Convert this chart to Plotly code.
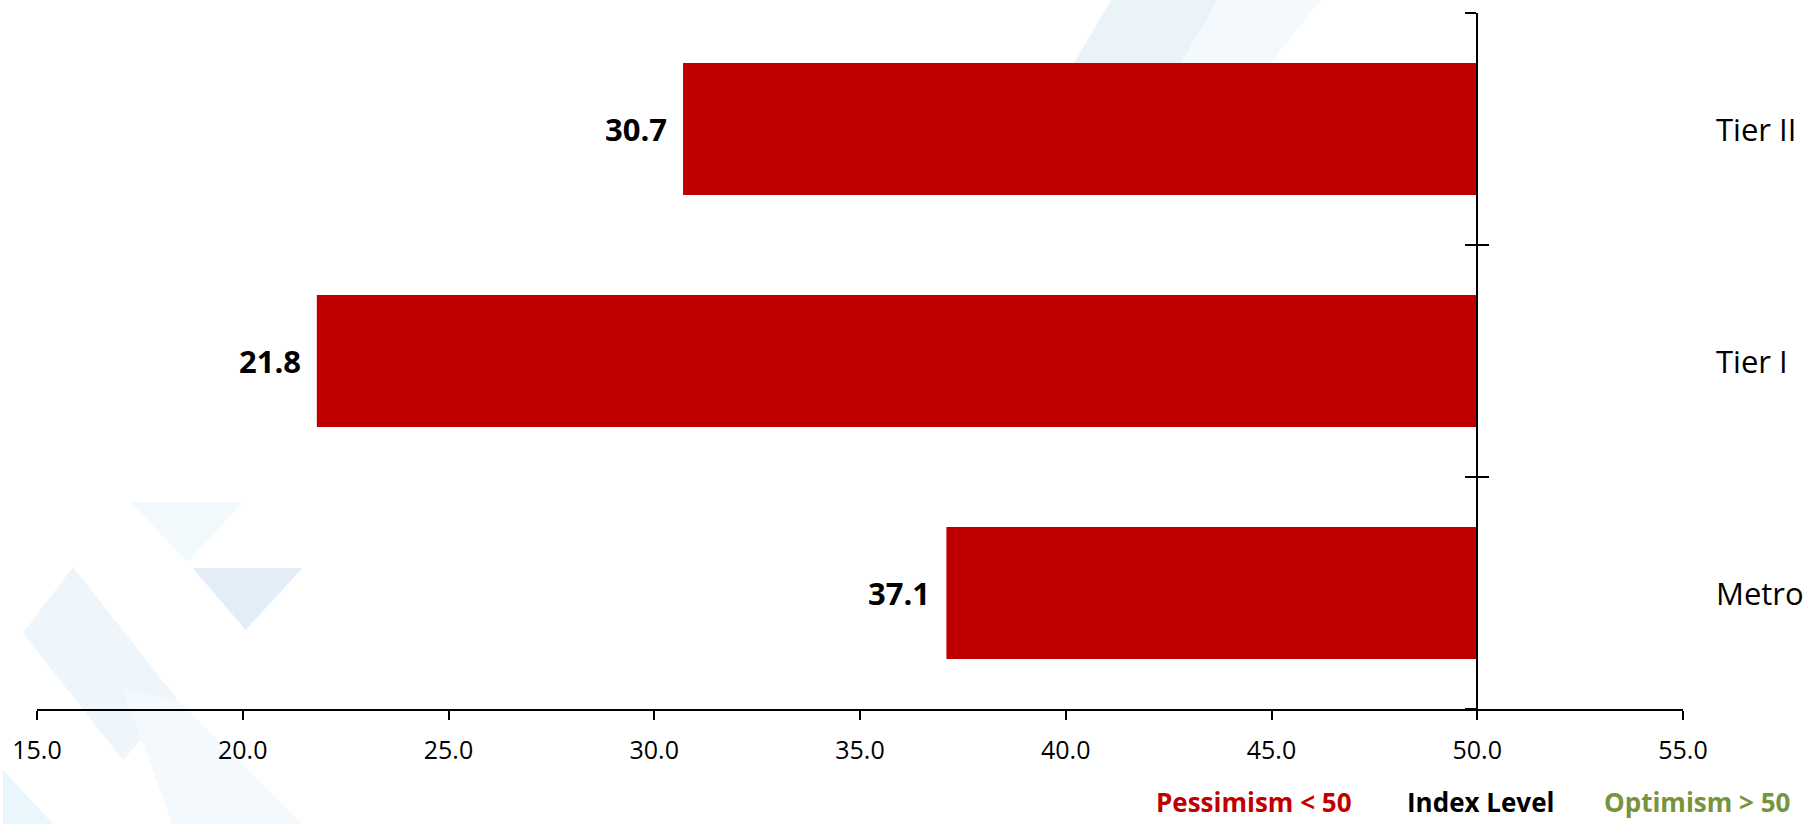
import plotly.graph_objects as go

# ---- data ----
categories = ["Metro", "Tier I", "Tier II"]
values = [37.1, 21.8, 30.7]
baseline = 50.0
x_ticks = [15, 20, 25, 30, 35, 40, 45, 50, 55]
legend_texts = ["Pessimism < 50", "Index Level", "Optimism > 50"]
legend_colors = ["#C00000", "#000000", "#77933C"]

BAR_COLOR = "#C00000"
W, H = 1809, 824
ML, MR, MT, MB = 34, 126, 13, 115
PW, PH = W - ML - MR, H - MT - MB


def fx(px):
    return (px - ML) / PW


def fy(py):
    return (H - MB - py) / PH


fig = go.Figure()

fig.add_trace(go.Bar(
    y=categories,
    x=[v - baseline for v in values],
    base=baseline,
    orientation="h",
    marker=dict(color=BAR_COLOR, line=dict(width=0)),
    width=0.57,
    hoverinfo="skip",
    showlegend=False,
))

# invisible trace for second y axis (crossing ticks)
fig.add_trace(go.Scatter(
    y=categories, x=[baseline] * len(categories), yaxis="y2",
    mode="markers", marker=dict(opacity=0), hoverinfo="skip", showlegend=False,
))

annotations = []
for cat, v in zip(categories, values):
    annotations.append(dict(
        x=v, y=cat, xref="x", yref="y", text=f"<b>{v:.1f}</b>",
        showarrow=False, xanchor="right", xshift=-14,
        font=dict(family="Open Sans", size=31, color="#000000"),
    ))
    annotations.append(dict(
        x=fx(1714), y=cat, xref="paper", yref="y", text=cat,
        showarrow=False, xanchor="left",
        font=dict(family="Open Sans", size=31, color="#000000"),
    ))

legend_centers = [1253, 1480, 1697]
for t, c, cx in zip(legend_texts, legend_colors, legend_centers):
    annotations.append(dict(
        x=fx(cx), y=fy(822), xref="paper", yref="paper", text=f"<b>{t}</b>",
        showarrow=False, xanchor="center", yanchor="bottom",
        font=dict(family="Liberation Sans Narrow, Open Sans", size=26, color=c),
    ))

# faint decorative background shapes


def poly(pts):
    return "M " + " L ".join(f"{fx(a)},{fy(b)}" for a, b in pts) + " Z"


bg_shapes = [
    ([(127, 502), (240, 502), (185, 562)], "#f1f9fc"),
    ([(190, 568), (300, 568), (243, 630)], "#e2edf8"),
    ([(70, 567), (20, 633), (120, 760), (175, 700)], "#eef6fc"),
    ([(120, 690), (175, 700), (300, 824), (170, 824)], "#f4f9fd"),
    ([(0, 770), (0, 824), (50, 824)], "#e9f6fb"),
    ([(1110, 0), (1217, 0), (1180, 63), (1073, 63)], "#eaf4f8"),
    ([(1217, 0), (1320, 0), (1270, 63), (1180, 63)], "#f3f9fc"),
]
shapes = []
for pts, col in bg_shapes:
    shapes.append(dict(type="path", path=poly(pts), xref="paper", yref="paper",
                       fillcolor=col, line=dict(width=0), layer="below"))

pos = (baseline - x_ticks[0]) / (x_ticks[-1] - x_ticks[0])

fig.update_layout(
    width=W, height=H,
    margin=dict(l=ML, r=MR, t=MT, b=MB),
    paper_bgcolor="#ffffff", plot_bgcolor="rgba(0,0,0,0)",
    font=dict(family="Open Sans", color="#000000"),
    xaxis=dict(
        range=[x_ticks[0], x_ticks[-1]], tickvals=x_ticks, tickformat=".1f",
        showgrid=False, zeroline=False, showline=True, linecolor="#000000", linewidth=2,
        ticks="outside", ticklen=9, tickwidth=2, tickcolor="#000000",
        tickfont=dict(family="Open Sans", size=25, color="#000000"),
        ticklabelstandoff=9,
    ),
    yaxis=dict(
        type="category", categoryorder="array", categoryarray=categories,
        range=[-0.5, 2.5], showgrid=False, zeroline=False,
        showline=True, linecolor="#000000", linewidth=2,
        ticks="outside", tickson="boundaries", ticklen=11, tickwidth=2, tickcolor="#000000",
        showticklabels=False, anchor="free", position=pos,
    ),
    yaxis2=dict(
        type="category", categoryorder="array", categoryarray=categories,
        range=[-0.5, 2.5], overlaying="y", showgrid=False, zeroline=False,
        showline=False, ticks="inside", tickson="boundaries", ticklen=11, tickwidth=2,
        tickcolor="#000000", showticklabels=False, anchor="free", position=pos,
    ),
    annotations=annotations,
    shapes=shapes,
    bargap=0.43,
)

fig.write_html("out.html")
